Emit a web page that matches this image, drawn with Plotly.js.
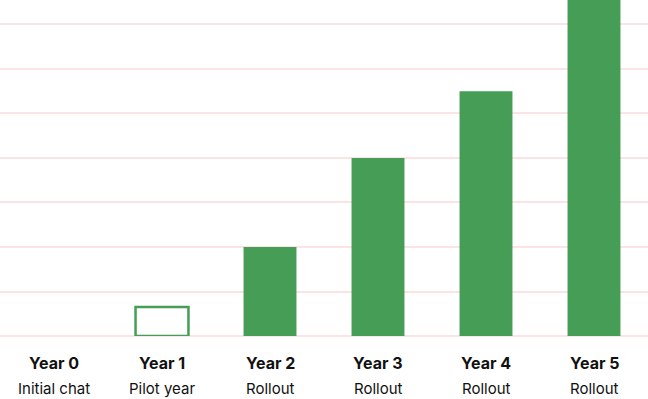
<!DOCTYPE html>
<html>
<head>
<meta charset="utf-8">
<script src="https://cdn.plot.ly/plotly-3.0.1.min.js"></script>
<style>html,body{margin:0;padding:0;background:#fff;}#chart{width:648px;height:399px;}</style>
</head>
<body>
<div id="chart"></div>
<script>
var categories = ["Year 0", "Year 1", "Year 2", "Year 3", "Year 4", "Year 5"];
var subtitles = ["Initial chat", "Pilot year", "Rollout", "Rollout", "Rollout", "Rollout"];
var values = [0, 0.65, 2, 4, 5.5, 8];
var outlined = [false, true, false, false, false, false];

var green = "#469d55";
var fills = outlined.map(function(o){ return o ? "#ffffff" : green; });
var lineWidths = outlined.map(function(o){ return o ? 2.5 : 0; });

var trace = {
  type: "bar",
  x: categories,
  y: values,
  marker: { color: fills, line: { color: green, width: lineWidths } },
  hoverinfo: "none"
};

var annotations = [];
categories.forEach(function(c, i){
  annotations.push({ x: c, xref: "x", y: -0.0804, yref: "paper", yanchor: "middle", xanchor: "center",
    text: "<b>" + c + "</b>", showarrow: false, font: { family: "Inter, sans-serif", size: 16, color: "#111" } });
  annotations.push({ x: c, xref: "x", y: -0.1577, yref: "paper", yanchor: "middle", xanchor: "center",
    text: subtitles[i], showarrow: false, font: { family: "Inter, sans-serif", size: 15, color: "#111" } });
});

var layout = {
  width: 648, height: 399,
  margin: { l: 0, r: 0, t: 0, b: 63 },
  paper_bgcolor: "#fff", plot_bgcolor: "#fff",
  bargap: 0.51,
  showlegend: false,
  xaxis: { showticklabels: false, showgrid: false, zeroline: false, showline: false, ticks: "" },
  yaxis: { range: [0, 7.55], dtick: 1, showticklabels: false, showgrid: true, gridcolor: "#fce3e4", gridwidth: 2,
           zeroline: true, zerolinecolor: "#fce3e4", zerolinewidth: 2, showline: false, ticks: "" },
  annotations: annotations,
  font: { family: "Inter, sans-serif" }
};

Plotly.newPlot("chart", [trace], layout, { displayModeBar: false, staticPlot: true });
</script>
</body>
</html>
